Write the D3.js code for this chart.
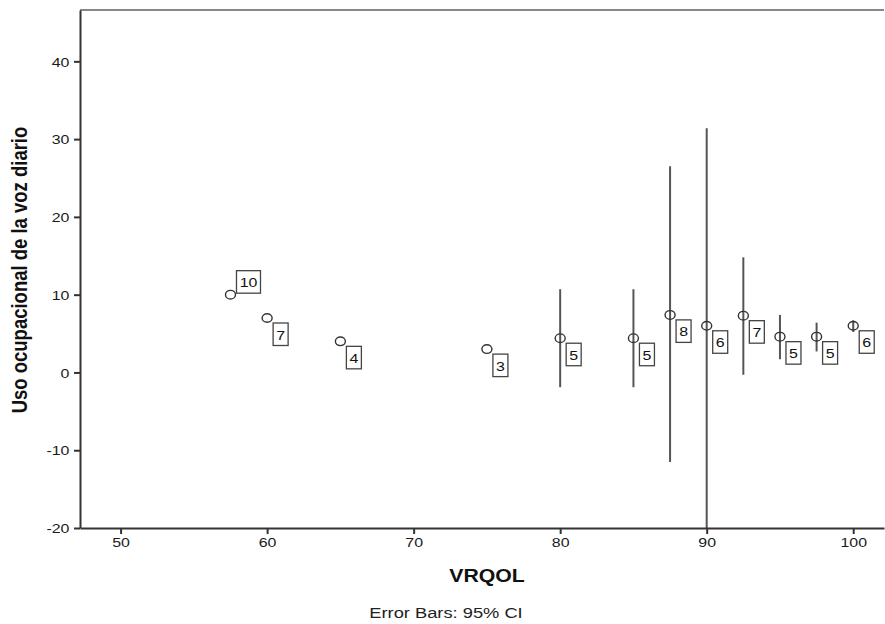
<!DOCTYPE html>
<html>
<head>
<meta charset="utf-8">
<script src="https://cdn.jsdelivr.net/npm/d3@7"></script>
<style>
  body { margin: 0; background: #fff; }
  text { font-family: "Liberation Sans", Arial, sans-serif; }
</style>
</head>
<body>
<div id="chart"></div>
<script>
var svgWidth = 885;
var svgHeight = 624;

var margin = { top: 10, right: 1, bottom: 96, left: 80 };
var width = svgWidth - margin.left - margin.right;
var height = svgHeight - margin.top - margin.bottom;

// the source picture is stretched sideways, so text gets the same stretch
var stretch = 1.18;

// data
var vrqol  = [57.5, 60, 65, 75, 80, 85, 87.5, 90, 92.5, 95, 97.5, 100];
var means  = [10, 7, 4, 3, 4.4, 4.4, 7.4, 6.0, 7.3, 4.6, 4.6, 6.0];
var ciLow  = [null, null, null, null, -1.9, -1.9, -11.5, -20.5, -0.3, 1.7, 2.7, 5.2];
var ciHigh = [null, null, null, null, 10.7, 10.7, 26.5, 31.4, 14.8, 7.4, 6.4, 6.7];
var counts = [10, 7, 4, 3, 5, 5, 8, 6, 7, 5, 5, 6];
var xTicks = [50, 60, 70, 80, 90, 100];
var yTicks = [-20, -10, 0, 10, 20, 30, 40];

var points = vrqol.map((v, i) => ({
  x: v, y: means[i], lo: ciLow[i], hi: ciHigh[i], n: counts[i]
}));

var svg = d3.select("#chart")
  .append("svg")
  .attr("width", svgWidth)
  .attr("height", svgHeight);

var chartGroup = svg.append("g")
  .attr("transform", `translate(${margin.left}, ${margin.top})`);

var xScale = d3.scaleLinear().domain([47.23, 102.1]).range([0, width]);
var yScale = d3.scaleLinear().domain([-20, 46.6]).range([height, 0]);

chartGroup.append("clipPath").attr("id", "plotClip")
  .append("rect").attr("width", width).attr("height", height);

// top frame line
chartGroup.append("line")
  .attr("x1", 0).attr("x2", width)
  .attr("y1", 0).attr("y2", 0)
  .attr("stroke", "#888").attr("stroke-width", 2);

// error bars
chartGroup.append("g").attr("clip-path", "url(#plotClip)")
  .selectAll("line")
  .data(points.filter(d => d.lo !== null))
  .enter()
  .append("line")
  .attr("x1", d => xScale(d.x)).attr("x2", d => xScale(d.x))
  .attr("y1", d => yScale(d.lo)).attr("y2", d => yScale(d.hi))
  .attr("stroke", "#555").attr("stroke-width", 2);

// axes
var bottomAxis = d3.axisBottom(xScale).tickValues(xTicks).tickSize(6).tickSizeOuter(0)
  .tickFormat(d => String(d));
var leftAxis = d3.axisLeft(yScale).tickValues(yTicks).tickSize(6).tickSizeOuter(0)
  .tickFormat(d => String(d));

var xAxisG = chartGroup.append("g")
  .attr("transform", `translate(0, ${height})`)
  .call(bottomAxis);

var yAxisG = chartGroup.append("g")
  .call(leftAxis);

[xAxisG, yAxisG].forEach(g => {
  g.select(".domain").attr("stroke", "#333").attr("stroke-width", 2);
  g.selectAll(".tick line").attr("stroke", "#333").attr("stroke-width", 2);
  g.selectAll(".tick text")
    .attr("fill", "#1a1a1a")
    .attr("font-size", "13.5px")
    .attr("font-family", "'Liberation Sans', Arial, sans-serif")
    .attr("transform", `scale(${stretch}, 1)`);
});
xAxisG.selectAll(".tick text").attr("y", 8).attr("dy", "0.85em");
yAxisG.selectAll(".tick text").attr("x", -9).attr("dy", "0.35em");

// point markers
chartGroup.selectAll("ellipse")
  .data(points)
  .enter()
  .append("ellipse")
  .attr("cx", d => xScale(d.x))
  .attr("cy", d => yScale(d.y))
  .attr("rx", 5)
  .attr("ry", 4.3)
  .attr("fill", "none")
  .attr("stroke", "#333")
  .attr("stroke-width", 1.4);

// count labels in boxes (the first one sits above the marker)
var boxW = d => String(d.n).length > 1 ? 24 : 15;

var labels = chartGroup.selectAll(".countLabel")
  .data(points)
  .enter()
  .append("g")
  .attr("class", "countLabel")
  .attr("transform", (d, i) => {
    var px = xScale(d.x), py = yScale(d.y);
    return i === 0 ? `translate(${px + 6}, ${py - 24})` : `translate(${px + 6}, ${py + 5})`;
  });

labels.append("rect")
  .attr("width", boxW)
  .attr("height", 22.5)
  .attr("fill", "#fff")
  .attr("stroke", "#444")
  .attr("stroke-width", 1.3);

labels.append("text")
  .attr("transform", d => `translate(${boxW(d) / 2}, 16.5) scale(${stretch}, 1)`)
  .attr("text-anchor", "middle")
  .attr("font-size", "13.5px")
  .attr("fill", "#111")
  .text(d => d.n);

// axis titles
svg.append("text")
  .attr("transform", `translate(27, ${margin.top + 260}) scale(${stretch}, 1) rotate(-90)`)
  .attr("text-anchor", "middle")
  .attr("font-size", "18.5px")
  .attr("font-weight", "bold")
  .attr("fill", "#111")
  .text("Uso ocupacional de la voz diario");

svg.append("text")
  .attr("transform", `translate(487, 582) scale(${stretch}, 1)`)
  .attr("text-anchor", "middle")
  .attr("font-size", "18px")
  .attr("font-weight", "bold")
  .attr("fill", "#111")
  .text("VRQOL");

svg.append("text")
  .attr("transform", `translate(446, 618) scale(${stretch}, 1)`)
  .attr("text-anchor", "middle")
  .attr("font-size", "15.5px")
  .attr("fill", "#222")
  .text("Error Bars: 95% CI");
</script>
</body>
</html>
